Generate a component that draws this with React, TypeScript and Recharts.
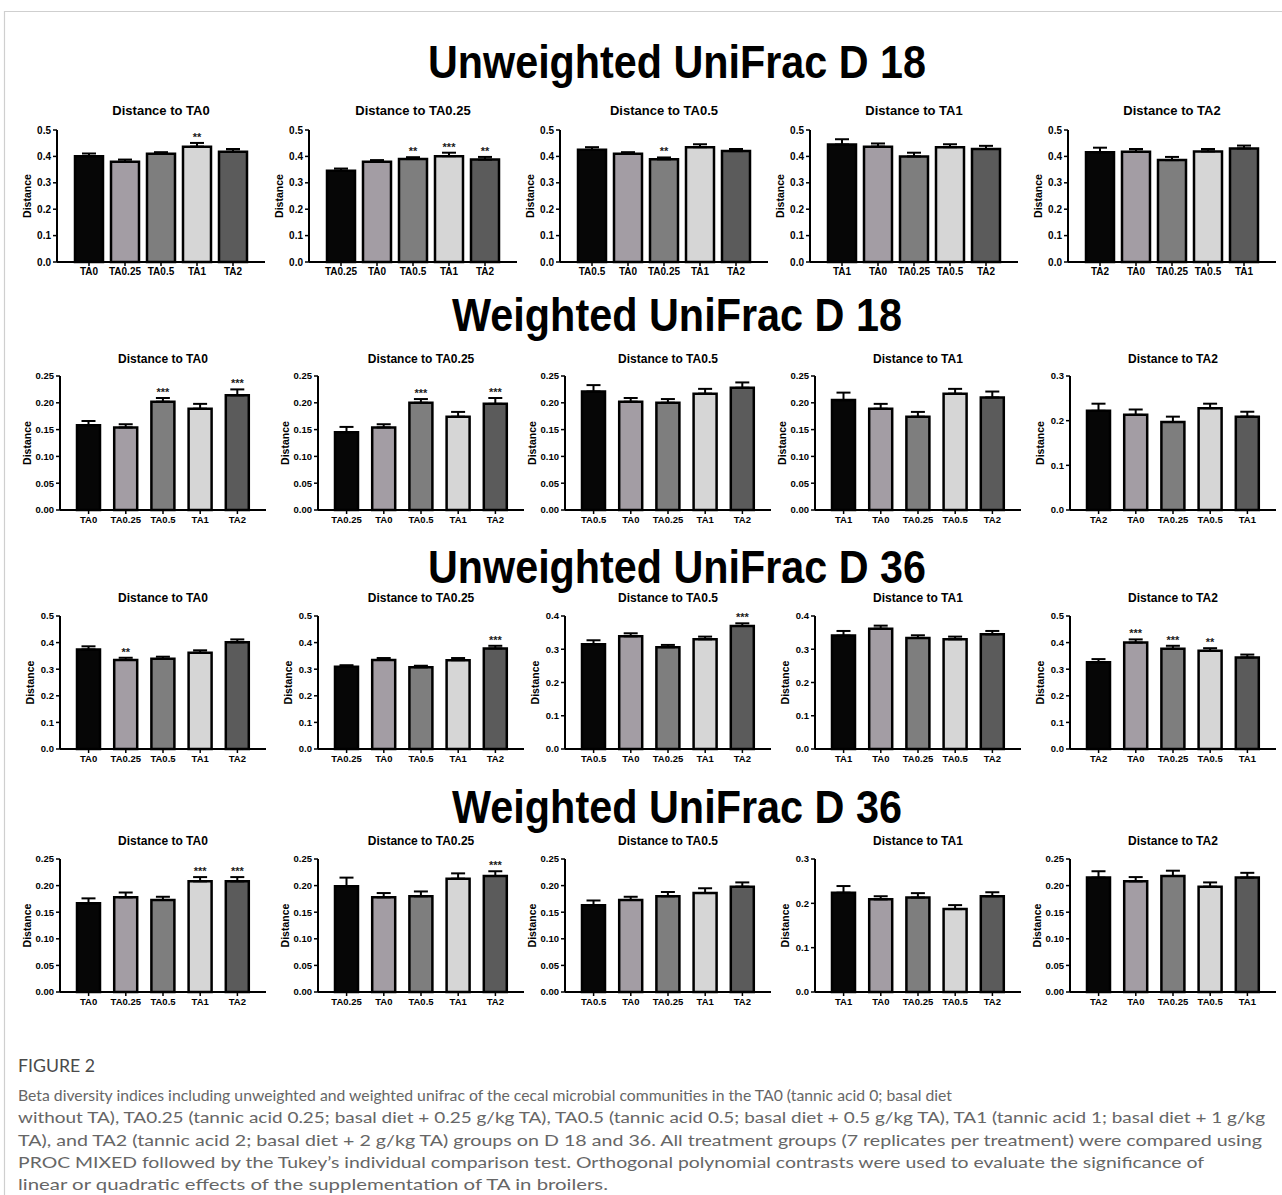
import React from 'react';
import { BarChart, Bar, XAxis, YAxis, ErrorBar, Cell, LabelList } from 'recharts';

const FONT = '"Liberation Sans", Arial, Helvetica, sans-serif';
const NARROW = '"Liberation Sans Narrow", "Liberation Sans", Arial, sans-serif';
const CAPTION_FONT = 'Lato, "Open Sans", sans-serif';

// Reference group of each panel, and the order of bars inside it
const referenceGroups = ['TA0', 'TA0.25', 'TA0.5', 'TA1', 'TA2'];
const groupOrders = [
  ['TA0', 'TA0.25', 'TA0.5', 'TA1', 'TA2'],
  ['TA0.25', 'TA0', 'TA0.5', 'TA1', 'TA2'],
  ['TA0.5', 'TA0', 'TA0.25', 'TA1', 'TA2'],
  ['TA1', 'TA0', 'TA0.25', 'TA0.5', 'TA2'],
  ['TA2', 'TA0', 'TA0.25', 'TA0.5', 'TA1'],
];
const barFills = ['#060606', '#a39da4', '#7e7e7e', '#d6d6d6', '#5b5b5b'];

const ticks05 = [0, 0.1, 0.2, 0.3, 0.4, 0.5];
const ticks04 = [0, 0.1, 0.2, 0.3, 0.4];
const ticks03 = [0, 0.1, 0.2, 0.3];
const ticks025 = [0, 0.05, 0.1, 0.15, 0.2, 0.25];

const rowTitles = [
  'Unweighted UniFrac D 18',
  'Weighted UniFrac D 18',
  'Unweighted UniFrac D 36',
  'Weighted UniFrac D 36',
];

// Unweighted UniFrac, day 18
const unweightedD18Means = [
  [0.401, 0.380, 0.410, 0.437, 0.418],
  [0.346, 0.380, 0.390, 0.401, 0.388],
  [0.425, 0.410, 0.389, 0.435, 0.420],
  [0.445, 0.437, 0.400, 0.435, 0.428],
  [0.416, 0.418, 0.386, 0.419, 0.430],
];
const unweightedD18Sems = [
  [0.010, 0.008, 0.006, 0.014, 0.010],
  [0.008, 0.006, 0.007, 0.013, 0.010],
  [0.010, 0.006, 0.007, 0.011, 0.008],
  [0.020, 0.012, 0.014, 0.011, 0.012],
  [0.017, 0.010, 0.012, 0.009, 0.011],
];
const unweightedD18Stars = [
  ['', '', '', '**', ''],
  ['', '', '**', '***', '**'],
  ['', '', '**', '', ''],
  ['', '', '', '', ''],
  ['', '', '', '', ''],
];
const unweightedD18Ticks = [ticks05, ticks05, ticks05, ticks05, ticks05];

// Weighted UniFrac, day 18
const weightedD18Means = [
  [0.158, 0.154, 0.202, 0.189, 0.214],
  [0.145, 0.154, 0.200, 0.174, 0.198],
  [0.221, 0.202, 0.200, 0.217, 0.228],
  [0.205, 0.189, 0.174, 0.217, 0.210],
  [0.222, 0.213, 0.197, 0.228, 0.209],
];
const weightedD18Sems = [
  [0.008, 0.006, 0.007, 0.009, 0.011],
  [0.010, 0.006, 0.007, 0.009, 0.011],
  [0.012, 0.007, 0.007, 0.009, 0.010],
  [0.014, 0.009, 0.009, 0.009, 0.011],
  [0.016, 0.012, 0.012, 0.010, 0.011],
];
const weightedD18Stars = [
  ['', '', '***', '', '***'],
  ['', '', '***', '', '***'],
  ['', '', '', '', ''],
  ['', '', '', '', ''],
  ['', '', '', '', ''],
];
const weightedD18Ticks = [ticks025, ticks025, ticks025, ticks025, ticks03];

// Unweighted UniFrac, day 36
const unweightedD36Means = [
  [0.374, 0.335, 0.339, 0.362, 0.401],
  [0.309, 0.335, 0.307, 0.334, 0.378],
  [0.315, 0.339, 0.306, 0.330, 0.370],
  [0.341, 0.362, 0.334, 0.330, 0.345],
  [0.326, 0.400, 0.377, 0.369, 0.344],
];
const unweightedD36Sems = [
  [0.012, 0.008, 0.008, 0.009, 0.011],
  [0.006, 0.007, 0.006, 0.008, 0.010],
  [0.012, 0.009, 0.007, 0.008, 0.008],
  [0.014, 0.009, 0.008, 0.008, 0.010],
  [0.012, 0.012, 0.011, 0.010, 0.011],
];
const unweightedD36Stars = [
  ['', '**', '', '', ''],
  ['', '', '', '', '***'],
  ['', '', '', '', '***'],
  ['', '', '', '', ''],
  ['', '***', '***', '**', ''],
];
const unweightedD36Ticks = [ticks05, ticks05, ticks04, ticks04, ticks05];

// Weighted UniFrac, day 36
const weightedD36Means = [
  [0.167, 0.178, 0.173, 0.208, 0.208],
  [0.199, 0.178, 0.180, 0.213, 0.218],
  [0.163, 0.173, 0.180, 0.186, 0.198],
  [0.224, 0.209, 0.213, 0.187, 0.216],
  [0.215, 0.208, 0.218, 0.198, 0.215],
];
const weightedD36Sems = [
  [0.009, 0.009, 0.006, 0.008, 0.008],
  [0.016, 0.008, 0.009, 0.010, 0.009],
  [0.009, 0.006, 0.008, 0.009, 0.008],
  [0.015, 0.007, 0.010, 0.009, 0.009],
  [0.012, 0.008, 0.010, 0.008, 0.009],
];
const weightedD36Stars = [
  ['', '', '', '***', '***'],
  ['', '', '', '', '***'],
  ['', '', '', '', ''],
  ['', '', '', '', ''],
  ['', '', '', '', ''],
];
const weightedD36Ticks = [ticks025, ticks025, ticks025, ticks03, ticks025];

const captionHeading = 'FIGURE 2';
const captionLines = [
  'Beta diversity indices including unweighted and weighted unifrac of the cecal microbial communities in the TA0 (tannic acid 0; basal diet',
  'without TA), TA0.25 (tannic acid 0.25; basal diet + 0.25 g/kg TA), TA0.5 (tannic acid 0.5; basal diet + 0.5 g/kg TA), TA1 (tannic acid 1; basal diet + 1 g/kg',
  'TA), and TA2 (tannic acid 2; basal diet + 2 g/kg TA) groups on D 18 and 36. All treatment groups (7 replicates per treatment) were compared using',
  'PROC MIXED followed by the Tukey\u2019s individual comparison test. Orthogonal polynomial contrasts were used to evaluate the significance of',
  'linear or quadratic effects of the supplementation of TA in broilers.',
];
const captionWidths = [934, 1247, 1244, 1186, 590];

type RowSpec = {
  title: string;
  means: number[][];
  sems: number[][];
  stars: string[][];
  ticks: number[][];
};

const rows: RowSpec[] = [
  { title: rowTitles[0], means: unweightedD18Means, sems: unweightedD18Sems, stars: unweightedD18Stars, ticks: unweightedD18Ticks },
  { title: rowTitles[1], means: weightedD18Means, sems: weightedD18Sems, stars: weightedD18Stars, ticks: weightedD18Ticks },
  { title: rowTitles[2], means: unweightedD36Means, sems: unweightedD36Sems, stars: unweightedD36Stars, ticks: unweightedD36Ticks },
  { title: rowTitles[3], means: weightedD36Means, sems: weightedD36Sems, stars: weightedD36Stars, ticks: weightedD36Ticks },
];

// page geometry of each row of panels
type RowLayout = {
  titleY: number; titleW: number; subY: number; subSize: number;
  top: number; plotH: number; plotW: number; axes: number[];
  pad: number; barSize: number; font: number;
};
const layouts: RowLayout[] = [
  { titleY: 78, titleW: 498, subY: 115, subSize: 13, top: 130, plotH: 132, plotW: 208, axes: [57, 309, 560, 810, 1068], pad: 14, barSize: 28, font: 10 },
  { titleY: 331, titleW: 450, subY: 363, subSize: 12, top: 376, plotH: 134, plotW: 206, axes: [60, 318, 565, 815, 1070], pad: 10, barSize: 23, font: 9.5 },
  { titleY: 583, titleW: 498, subY: 602, subSize: 12, top: 616, plotH: 133, plotW: 206, axes: [60, 318, 565, 815, 1070], pad: 10, barSize: 23, font: 9.5 },
  { titleY: 823, titleW: 450, subY: 845, subSize: 12, top: 859, plotH: 133, plotW: 206, axes: [60, 318, 565, 815, 1070], pad: 10, barSize: 23, font: 9.5 },
];

const Y_W = 44;
const M_TOP = 22;
const M_RIGHT = 6;
const X_H = 24;

type PanelProps = {
  layout: RowLayout;
  col: number;
  means: number[];
  sems: number[];
  stars: string[];
  ticks: number[];
};

const Panel: React.FC<PanelProps> = ({ layout, col, means, sems, stars, ticks }) => {
  const data = groupOrders[col].map((name, i) => ({
    name,
    mean: means[i],
    err: [0, sems[i]],
    star: stars[i],
  }));
  const yMax = ticks[ticks.length - 1];
  const decimals = ticks[1] < 0.099 ? 2 : 1;
  const axisX = layout.axes[col];
  const width = Y_W + layout.plotW + M_RIGHT;
  const height = M_TOP + layout.plotH + X_H;
  const tickStyle = { fontSize: layout.font, fontWeight: 700, fill: '#000', fontFamily: FONT };

  // significance marks sit just above the error-bar cap
  const renderStar = (props: any) => {
    const box = props.viewBox ?? props;
    const x = Number(props.x ?? box.x);
    const y = Number(props.y ?? box.y);
    const w = Number(props.width ?? box.width);
    const h = Number(props.height ?? box.height);
    const entry = data[props.index];
    if (!entry || !entry.star) return null;
    const pxPerUnit = Math.abs(h) / entry.mean;
    const errTop = Math.min(y, y + h) - entry.err[1] * pxPerUnit;
    return (
      <text x={x + w / 2} y={errTop - 2} textAnchor="middle" fontSize={11} fontWeight={700} fill="#1a1a1a" fontFamily={FONT}>
        {entry.star}
      </text>
    );
  };

  return (
    <div style={{ position: 'absolute', left: axisX - Y_W, top: layout.top - M_TOP }}>
      <BarChart width={width} height={height} data={data} margin={{ top: M_TOP, right: M_RIGHT, left: 0, bottom: 0 }}>
        <XAxis
          dataKey="name"
          type="category"
          interval={0}
          height={X_H}
          padding={{ left: layout.pad, right: layout.pad }}
          tick={tickStyle}
          tickSize={4}
          tickMargin={2}
          axisLine={{ stroke: '#000', strokeWidth: 2 }}
          tickLine={{ stroke: '#000', strokeWidth: 1.5 }}
        />
        <YAxis
          type="number"
          domain={[0, yMax]}
          ticks={ticks}
          interval={0}
          width={Y_W}
          tickFormatter={(v: number) => v.toFixed(decimals)}
          tick={tickStyle}
          tickSize={4}
          tickMargin={2}
          axisLine={{ stroke: '#000', strokeWidth: 2 }}
          tickLine={{ stroke: '#000', strokeWidth: 1.5 }}
        />
        <Bar dataKey="mean" barSize={layout.barSize} stroke="#000" strokeWidth={2.5} isAnimationActive={false}>
          {data.map((d, i) => (
            <Cell key={d.name} fill={barFills[i]} stroke="#000" strokeWidth={2.5} />
          ))}
          <ErrorBar dataKey="err" direction="y" width={7} stroke="#000" strokeWidth={2} isAnimationActive={false} />
          <LabelList dataKey="star" content={renderStar} />
        </Bar>
      </BarChart>
    </div>
  );
};

const App: React.FC = () => {
  return (
    <div
      style={{
        position: 'absolute',
        left: 0,
        top: 0,
        width: 1282,
        height: 1195,
        overflow: 'hidden',
        background: '#fff',
        fontFamily: FONT,
      }}
    >
      {rows.map((row, r) =>
        referenceGroups.map((_, c) => (
          <Panel
            key={`${r}-${c}`}
            layout={layouts[r]}
            col={c}
            means={row.means[c]}
            sems={row.sems[c]}
            stars={row.stars[c]}
            ticks={row.ticks[c]}
          />
        ))
      )}

      <svg
        width={1282}
        height={1195}
        style={{ position: 'absolute', left: 0, top: 0, pointerEvents: 'none' }}
      >
        {/* page frame */}
        <line x1={4} y1={11.5} x2={1282} y2={11.5} stroke="#cfcfcf" strokeWidth={1.2} />
        <line x1={4.5} y1={11} x2={4.5} y2={1195} stroke="#cfcfcf" strokeWidth={1.2} />

        {rows.map((row, r) => {
          const lay = layouts[r];
          return (
            <g key={row.title}>
              <text
                x={677}
                y={lay.titleY}
                textAnchor="middle"
                fontSize={46}
                fontWeight={700}
                fontFamily={NARROW}
                textLength={lay.titleW}
                lengthAdjust="spacingAndGlyphs"
                fill="#000"
              >
                {row.title}
              </text>
              {referenceGroups.map((ref, c) => {
                const axisX = lay.axes[c];
                const twoDecimals = row.ticks[c][1] < 0.099;
                const labelX = axisX - (twoDecimals ? 33 : 30);
                const labelY = lay.top + lay.plotH / 2;
                return (
                  <g key={ref}>
                    <text
                      x={axisX + lay.plotW / 2}
                      y={lay.subY}
                      textAnchor="middle"
                      fontSize={lay.subSize}
                      fontWeight={700}
                      fill="#000"
                    >
                      {`Distance to ${ref}`}
                    </text>
                    <text
                      x={labelX}
                      y={labelY}
                      transform={`rotate(-90 ${labelX} ${labelY})`}
                      textAnchor="middle"
                      dominantBaseline="central"
                      fontSize={10.5}
                      fontWeight={700}
                      fill="#000"
                    >
                      Distance
                    </text>
                  </g>
                );
              })}
            </g>
          );
        })}

        {/* caption */}
        <text x={18} y={1072} fontSize={17} fill="#4a4a4a" fontFamily={CAPTION_FONT} textLength={77} lengthAdjust="spacingAndGlyphs">
          {captionHeading}
        </text>
        {captionLines.map((line, i) => (
          <text
            key={i}
            x={18}
            y={1101 + i * 22.3}
            fontSize={16}
            fill="#666"
            fontFamily={CAPTION_FONT}
            textLength={captionWidths[i]}
            lengthAdjust="spacingAndGlyphs"
          >
            {line}
          </text>
        ))}
      </svg>
    </div>
  );
};

export default App;
